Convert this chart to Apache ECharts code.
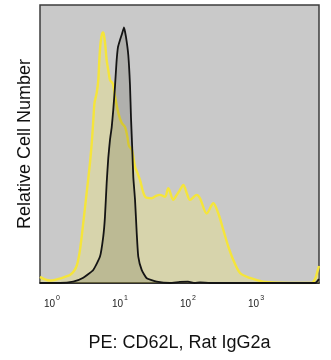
<!DOCTYPE html>
<html>
<head>
<meta charset="utf-8">
<script src="https://cdn.jsdelivr.net/npm/echarts@6/dist/echarts.min.js"></script>
<style>
  html, body { margin: 0; padding: 0; background: #ffffff; }
  #chart { width: 331px; height: 360px; }
</style>
</head>
<body>
<div id="chart"></div>
<script>
// Fluorescence intensity is plotted as log10 channel value; counts are relative (peak scale 0-100).
const decadeExponents = [0, 1, 2, 3];

// CD62L-stained cells (yellow histogram)
const cd62lLog = [
  -0.176, -0.103, -0.029, 0.044, 0.118, 0.191, 0.265, 0.324, 0.368, 0.412,
  0.46, 0.51, 0.559, 0.588, 0.61, 0.625, 0.657, 0.681, 0.696, 0.716,
  0.743, 0.757, 0.779, 0.804, 0.828, 0.853, 0.878, 0.897, 0.926, 0.975,
  1.025, 1.074, 1.11, 1.132, 1.176, 1.221, 1.257, 1.294, 1.368, 1.466,
  1.529, 1.588, 1.662, 1.71, 1.784, 1.834, 1.882, 1.931, 1.981, 2.029,
  2.128, 2.176, 2.275, 2.372, 2.446, 2.519, 2.593, 2.666, 2.765, 2.912,
  3.103, 3.353, 3.599, 3.819, 3.868, 3.901, 3.926
];
const cd62lCount = [
  2.2, 1.3, 0.9, 1.1, 1.6, 2.2, 2.9, 4.3, 6.5, 11.9,
  21.6, 32.4, 43.2, 51.4, 59.4, 64.7, 68.3, 73.0, 80.2, 86.7,
  90.1, 89.9, 86.7, 80.2, 76.6, 73.0, 72.3, 71.6, 67.3, 61.2,
  57.6, 56.1, 52.5, 49.3, 47.8, 41.8, 39.6, 37.1, 31.1, 30.5,
  31.3, 31.7, 31.0, 34.1, 29.9, 31.7, 33.5, 35.3, 32.4, 29.9,
  31.7, 30.5, 25.0, 28.7, 25.0, 19.1, 13.1, 8.3, 3.6, 1.8,
  0.5, 0.1, 0, 0, 1.4, 4.0, 6.1
];

// Rat IgG2a isotype control (black outline histogram)
const isotypeLog = [
  -0.176, 0.118, 0.313, 0.46, 0.607, 0.706, 0.754, 0.779, 0.804, 0.828,
  0.853, 0.878, 0.901, 0.926, 0.949, 0.971, 1.0, 1.029, 1.059, 1.088,
  1.122, 1.147, 1.162, 1.181, 1.196, 1.221, 1.246, 1.269, 1.319, 1.393,
  1.54, 1.735, 1.88, 2.0, 2.1, 2.176, 2.32, 3.868, 3.926
];
const isotypeCount = [
  0, 0, 0.5, 1.9, 4.7, 9.5, 16.7, 23.8, 35.9, 45,
  51.5, 56, 62.2, 70.5, 79.5, 84.9, 87.4, 89.6, 91.9, 88.5,
  82.0, 71.2, 59.4, 47.8, 38, 30, 18.0, 9.5, 4.7, 1.7,
  0.5, 0, 0.4, 0.5, 0, 0.2, 0, 0, 1.4
];

const pairs = (xs, ys) => xs.map((x, i) => [x, ys[i]]);
const FONT = '"Liberation Sans", Arial, Helvetica, sans-serif';

const chart = echarts.init(document.getElementById('chart'), null, { renderer: 'canvas' });
chart.setOption({
  animation: false,
  backgroundColor: '#ffffff',
  grid: {
    left: 40, top: 5, right: 12, bottom: 77,
    show: true,
    backgroundColor: '#c9c9c9',
    borderColor: '#3c3c3c',
    borderWidth: 1.5
  },
  xAxis: {
    type: 'value',
    min: -0.176,
    max: 3.926,
    name: 'PE: CD62L, Rat IgG2a',
    nameLocation: 'middle',
    nameGap: 51,
    nameTextStyle: { fontFamily: FONT, fontSize: 18, color: '#111' },
    axisLine: { show: true, lineStyle: { color: '#1a1a1a', width: 1.5 } },
    axisTick: { show: false },
    splitLine: { show: false },
    axisLabel: {
      customValues: decadeExponents,
      margin: 12,
      formatter: v => '{b|10}{s|' + Math.round(v) + '}',
      rich: {
        b: { fontFamily: FONT, fontSize: 10, color: '#222', lineHeight: 14, verticalAlign: 'bottom' },
        s: { fontFamily: FONT, fontSize: 7, color: '#222', lineHeight: 14, verticalAlign: 'top', padding: [0, 0, 0, 1] }
      }
    }
  },
  yAxis: {
    type: 'value',
    min: 0,
    max: 100,
    name: 'Relative Cell Number',
    nameLocation: 'middle',
    nameGap: 6,
    nameTextStyle: { fontFamily: FONT, fontSize: 18, color: '#111' },
    axisLine: { show: false },
    axisTick: { show: false },
    axisLabel: { show: false },
    splitLine: { show: false }
  },
  series: [
    {
      name: 'CD62L',
      type: 'line',
      data: pairs(cd62lLog, cd62lCount),
      smooth: 0.3,
      showSymbol: false,
      lineStyle: { color: '#f5e53a', width: 2.4 },
      areaStyle: { color: 'rgba(242,232,118,0.5)' },
      z: 2
    },
    {
      name: 'Rat IgG2a',
      type: 'line',
      data: pairs(isotypeLog, isotypeCount),
      smooth: 0.15,
      showSymbol: false,
      lineStyle: { color: '#141414', width: 1.8 },
      areaStyle: { color: 'rgba(30,30,10,0.2)' },
      z: 3
    }
  ]
});
</script>
</body>
</html>
